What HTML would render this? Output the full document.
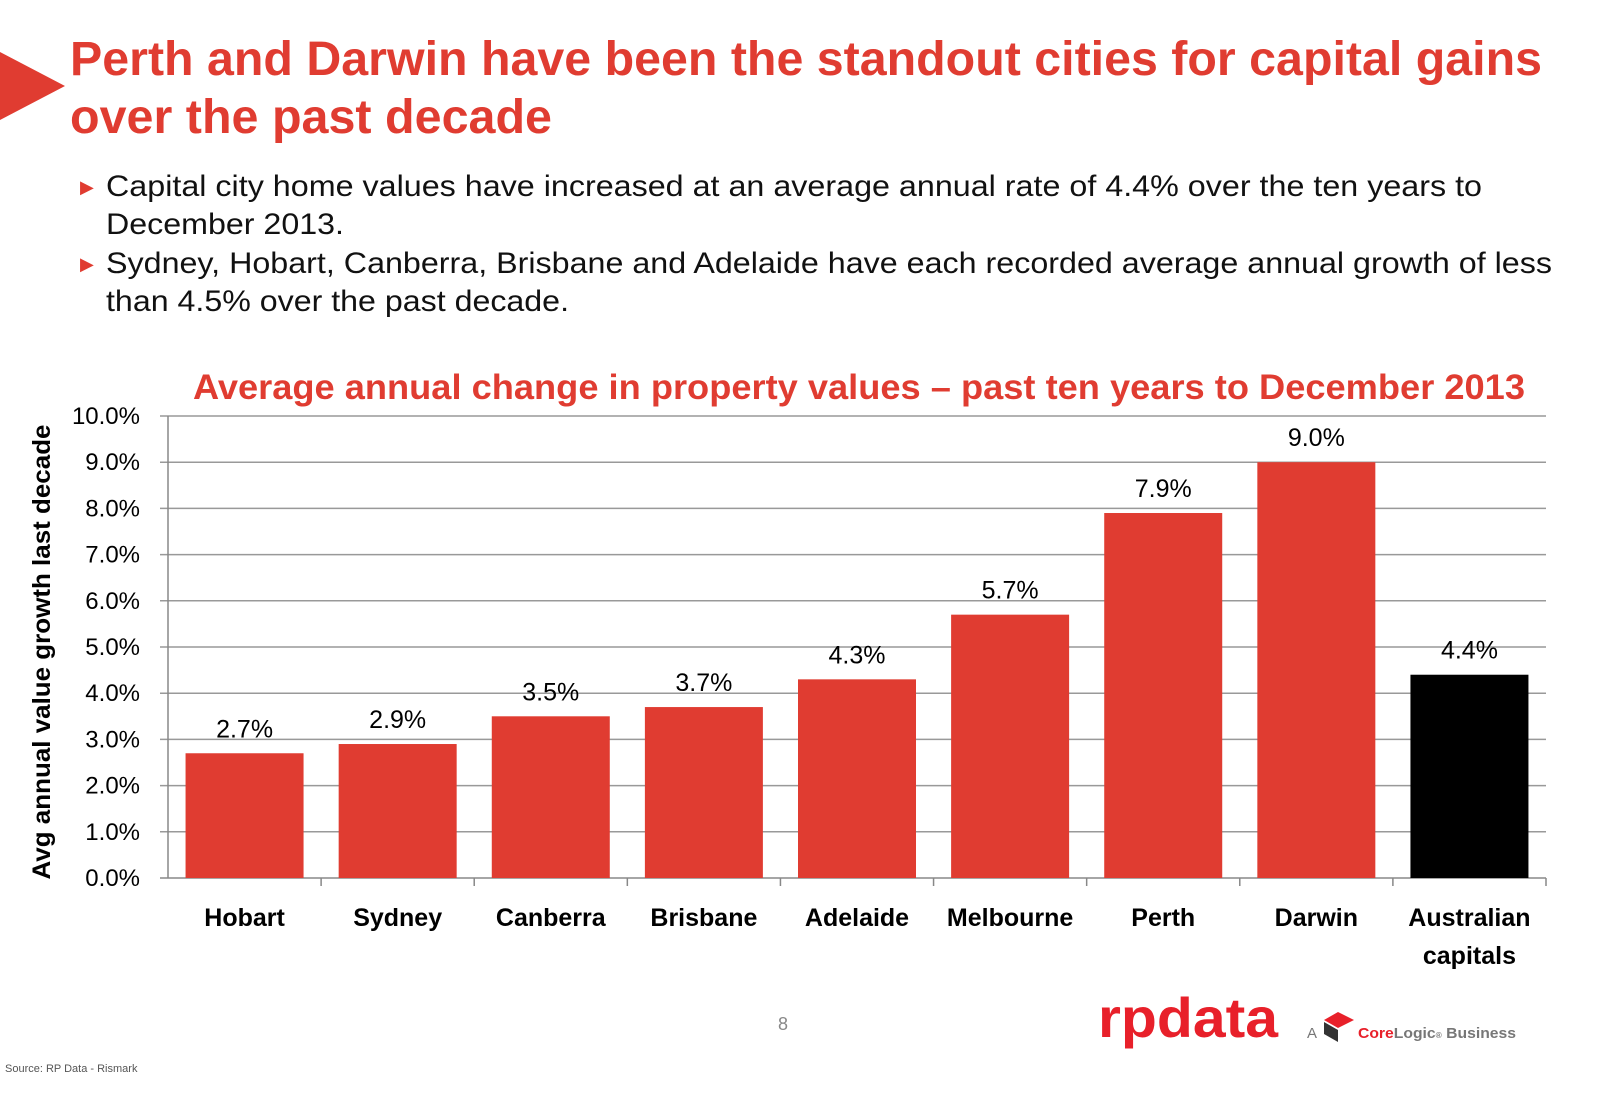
<!DOCTYPE html>
<html><head><meta charset="utf-8"><style>
body{margin:0;width:1600px;height:1096px;background:#fff;overflow:hidden;font-family:"Liberation Sans",sans-serif;}
svg{position:absolute;left:0;top:0}
</style></head><body>
<svg width="1600" height="1096">
<polygon points="0,52 65,86 0,120" fill="#e03c31"/>
<g font-family="Liberation Sans, sans-serif" font-weight="bold" font-size="48" fill="#e03c31">
<text x="70" y="75" textLength="1472" lengthAdjust="spacingAndGlyphs">Perth and Darwin have been the standout cities for capital gains</text>
<text x="70" y="133" textLength="482" lengthAdjust="spacingAndGlyphs">over the past decade</text></g>
<g font-family="Liberation Sans, sans-serif" font-size="30" fill="#111">
<text x="80" y="193" font-size="18" fill="#e03c31">▶</text>
<text x="106" y="196" textLength="1376" lengthAdjust="spacingAndGlyphs">Capital city home values have increased at an average annual rate of 4.4% over the ten years to</text>
<text x="106" y="234" textLength="238" lengthAdjust="spacingAndGlyphs">December 2013.</text>
<text x="80" y="270" font-size="18" fill="#e03c31">▶</text>
<text x="106" y="273" textLength="1446" lengthAdjust="spacingAndGlyphs">Sydney, Hobart, Canberra, Brisbane and Adelaide have each recorded average annual growth of less</text>
<text x="106" y="311" textLength="463" lengthAdjust="spacingAndGlyphs">than 4.5% over the past decade.</text></g>
<text x="193" y="399" textLength="1332" lengthAdjust="spacingAndGlyphs" font-family="Liberation Sans, sans-serif" font-weight="bold" font-size="35" fill="#e03c31">Average annual change in property values – past ten years to December 2013</text>
<text transform="translate(50,652) rotate(-90)" text-anchor="middle" textLength="455" lengthAdjust="spacingAndGlyphs" font-family="Liberation Sans, sans-serif" font-weight="bold" font-size="25" fill="#000">Avg annual value growth last decade</text>
<g id="chart"></g>
<text x="783" y="1030" text-anchor="middle" font-size="18" fill="#888">8</text>
<text x="5" y="1072" font-size="11" fill="#555">Source:  RP Data - Rismark</text>
<text x="1098" y="1037" font-size="56" font-weight="bold" fill="#e8202a" textLength="180" lengthAdjust="spacingAndGlyphs">rpdata</text>
<text x="1307" y="1038" font-size="15" fill="#777">A</text>
<polygon points="1338,1012 1354,1020 1338,1028 1324,1020" fill="#e8202a"/>
<polygon points="1324,1022 1338,1030 1338,1042 1324,1034" fill="#333"/>
<text x="1358" y="1038" font-size="15" font-weight="bold" fill="#777" textLength="158" lengthAdjust="spacingAndGlyphs"><tspan fill="#e8202a">Core</tspan>Logic<tspan font-size="8">®</tspan> Business</text>
</svg>
<script>
const categories=["Hobart","Sydney","Canberra","Brisbane","Adelaide","Melbourne","Perth","Darwin","Australian|capitals"];
const values=[2.7,2.9,3.5,3.7,4.3,5.7,7.9,9.0,4.4];
const labels=["2.7%","2.9%","3.5%","3.7%","4.3%","5.7%","7.9%","9.0%","4.4%"];
const ticks=[0,1,2,3,4,5,6,7,8,9,10];
const X0=168,X1=1546,Y0=878,Y1=416,ns="http://www.w3.org/2000/svg";
const y=v=>Y0-(v/10)*(Y0-Y1);
const bw=(X1-X0)/categories.length;
const g=document.getElementById('chart');
function mk(t,a,txt){const e=document.createElementNS(ns,t);for(const k in a)e.setAttribute(k,a[k]);if(txt!=null)e.textContent=txt;g.appendChild(e);return e;}
ticks.forEach(t=>{
const l=mk('line',{x1:X0-8,x2:X1,y1:y(t),y2:y(t),stroke:t===0?'#888':'#999','stroke-width':1.5});


const tx=mk('text',{x:140,y:y(t)+8,'text-anchor':'end','font-size':24,fill:'#000','font-family':'Liberation Sans, sans-serif'},t.toFixed(1)+'%');


});
const ax=mk('line',{x1:X0,x2:X0,y1:Y1,y2:Y0,stroke:'#888','stroke-width':1.5});


categories.forEach((c,i)=>{
const cx=X0+bw*(i+0.5);
const tk=mk('line',{x1:X0+bw*(i+1),x2:X0+bw*(i+1),y1:Y0,y2:Y0+8,stroke:'#888','stroke-width':1.5});


const r=mk('rect',{x:cx-59,y:y(values[i]),width:118,height:Y0-y(values[i]),fill:i===8?'#000':'#e03c31'});


const vl=mk('text',{x:cx,y:y(values[i])-16,'text-anchor':'middle','font-size':25,fill:'#000','font-family':'Liberation Sans, sans-serif'},labels[i]);


c.split('|').forEach((p,j)=>{
const xl=mk('text',{x:cx,y:926+j*38,'text-anchor':'middle','font-size':25,'font-weight':'bold',fill:'#000','font-family':'Liberation Sans, sans-serif'},p);


});
});
</script>
</body></html>
